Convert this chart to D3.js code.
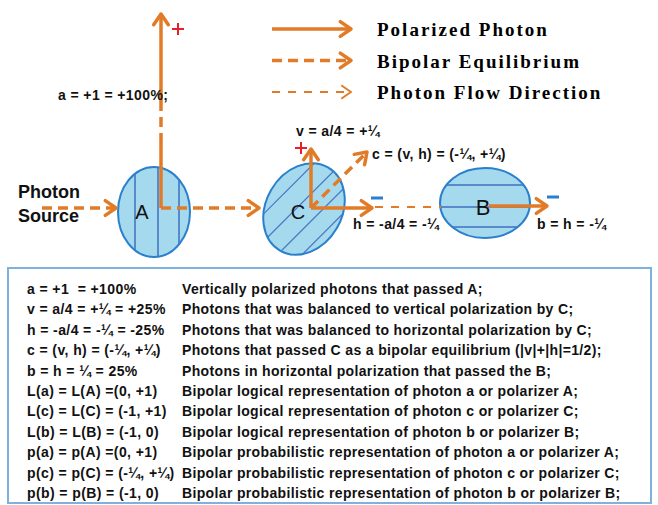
<!DOCTYPE html>
<html>
<head>
<meta charset="utf-8">
<script src="https://cdn.jsdelivr.net/npm/d3@7"></script>
<style>
  body { margin: 0; background: #fff; }
  svg { display: block; }
  text { white-space: pre; }
</style>
</head>
<body>
<div id="chart"></div>
<script>
// legend
const legendLabels = ["Polarized Photon", "Bipolar Equilibrium", "Photon Flow Direction"]
const legendStyles = ["solid", "bipolar", "flow"]

// polarizers (name, axis of their inner lines)
const polarizers = ["A", "C", "B"]
const polarizerAxis = ["vertical", "diagonal", "horizontal"]

// vector labels near the diagram
const labelA = "a = +1 = +100%;"
const labelV = "v = a/4 = +¼"
const labelC = "c = (v, h) = (-¼, +¼)"
const labelH = "h = -a/4 = -¼"
const labelB = "b = h = -¼"
const sourceLines = ["Photon", "Source"]

// table in the box
const formulas = [
  "a = +1  = +100%",
  "v = a/4 = +¼ = +25%",
  "h = -a/4 = -¼ = -25%",
  "c = (v, h) = (-¼, +¼)",
  "b = h = ¼ = 25%",
  "L(a) = L(A) =(0, +1)",
  "L(c) = L(C) = (-1, +1)",
  "L(b) = L(B) = (-1, 0)",
  "p(a) = p(A) =(0, +1)",
  "p(c) = p(C) = (-¼, +¼)",
  "p(b) = p(B) = (-1, 0)",
]
const descriptions = [
  "Vertically polarized photons that passed A;",
  "Photons that was balanced to vertical polarization by C;",
  "Photons that was balanced to horizontal polarization by C;",
  "Photons that passed C as a bipolar equilibrium (|v|+|h|=1/2);",
  "Photons in horizontal polarization that passed the B;",
  "Bipolar logical representation of photon a or polarizer A;",
  "Bipolar logical representation of photon c or polarizer C;",
  "Bipolar logical representation of photon b or polarizer B;",
  "Bipolar probabilistic representation of photon a or polarizer A;",
  "Bipolar probabilistic representation of photon c or polarizer C;",
  "Bipolar probabilistic representation of photon b or polarizer B;",
]

const width = 658
const height = 505
const orange = "#e17b27"
const red = "#e8202a"
const blue = "#2a80cc"
const sans = "'Liberation Sans', Arial, sans-serif"

const svg = d3.select("#chart").append("svg")
  .attr("width", width)
  .attr("height", height)

// the diagram lives on a row at y = 208
const axisY = 208
const centres = { A: [154, 212], C: [304, 209], B: [485, 203] }
const radii = { A: [36, 45], C: [48, 38], B: [45, 35] }
const tilt = { A: 0, C: -60, B: 0 }

const styleOf = {
  solid: { w: 3.5, dash: null, head: 13 },
  bipolar: { w: 3.5, dash: "10,6", head: 13 },
  flow: { w: 2, dash: "8,8", head: 11 },
}

function arrowHead(g, x, y, angle, size, w) {
  const a1 = angle + Math.PI - 0.6
  const a2 = angle + Math.PI + 0.6
  g.append("path")
    .attr("d", `M${x + size * Math.cos(a1)},${y + size * Math.sin(a1)}L${x},${y}L${x + size * Math.cos(a2)},${y + size * Math.sin(a2)}`)
    .attr("fill", "none")
    .attr("stroke", orange)
    .attr("stroke-width", w)
    .attr("stroke-linecap", "round")
    .attr("stroke-linejoin", "round")
}

function arrow(g, x1, y1, x2, y2, style, withHead = true) {
  const s = styleOf[style]
  g.append("line")
    .attr("x1", x1).attr("y1", y1).attr("x2", x2).attr("y2", y2)
    .attr("stroke", orange)
    .attr("stroke-width", s.w)
    .attr("stroke-dasharray", s.dash)
  if (withHead) arrowHead(g, x2, y2, Math.atan2(y2 - y1, x2 - x1), s.head, s.w)
}

// ---- legend
const legend = svg.append("g")
legendLabels.forEach((label, i) => {
  const y = 29 + i * 31.5
  arrow(legend, 272, y, 351, y, legendStyles[i])
  legend.append("text")
    .attr("x", 377)
    .attr("y", y + 7)
    .attr("font-family", "'Liberation Serif', 'Times New Roman', serif")
    .attr("font-weight", "bold")
    .attr("font-size", 19)
    .attr("letter-spacing", 2)
    .text(label)
})

// ---- polarizers
const defs = svg.append("defs")
const pol = svg.append("g")
polarizers.forEach((name, i) => {
  const [cx, cy] = centres[name]
  const [rx, ry] = radii[name]
  const g = pol.append("g").attr("transform", `translate(${cx},${cy}) rotate(${tilt[name]})`)
  defs.append("clipPath").attr("id", `clip-${name}`)
    .append("ellipse").attr("rx", rx).attr("ry", ry)
  g.append("ellipse")
    .attr("rx", rx).attr("ry", ry)
    .attr("fill", "#a4d9ee")
  const lines = g.append("g").attr("clip-path", `url(#clip-${name})`)
  const axis = polarizerAxis[i]
  if (axis === "vertical") {
    [-19, 4, 25].forEach(dx => lines.append("line")
      .attr("x1", dx).attr("x2", dx).attr("y1", -60).attr("y2", 60)
      .attr("stroke", "#3f6fbf").attr("stroke-width", 1.5))
  } else if (axis === "horizontal") {
    [-18, 4, 24].forEach(dy => lines.append("line")
      .attr("y1", dy).attr("y2", dy).attr("x1", -60).attr("x2", 60)
      .attr("stroke", "#3f6fbf").attr("stroke-width", 1.5))
  } else {
    // 45 degree lines in screen space -> -15 deg relative to the tilted ellipse
    [-26, -6, 14, 32].forEach(dy => lines.append("line")
      .attr("x1", -70).attr("x2", 70)
      .attr("y1", dy - 70 * Math.tan(Math.PI / 12))
      .attr("y2", dy + 70 * Math.tan(Math.PI / 12))
      .attr("stroke", "#4a74bf").attr("stroke-width", 1.2))
  }
  g.append("ellipse")
    .attr("rx", rx).attr("ry", ry)
    .attr("fill", "none")
    .attr("stroke", blue)
    .attr("stroke-width", 2)
})

// ---- flow arrows
const flow = svg.append("g")
arrow(flow, 42, axisY, 116, axisY, "bipolar")
arrow(flow, 161, axisY, 259, axisY, "bipolar")
arrow(flow, 375, 207, 441, 207, "flow", false)

// photon a (vertical from A)
arrow(flow, 161, axisY, 161, 143, "solid", false)
arrow(flow, 161, 143, 161, 103, "bipolar", false)
arrow(flow, 161, 103, 161, 14, "solid")

// photons out of C
arrow(flow, 311, 208, 311, 149, "solid")
arrow(flow, 311, 208, 372, 208, "solid")
arrow(flow, 311, 208, 367, 152, "bipolar")
// photon b
arrow(flow, 489, 206, 547, 206, "solid")

// ---- polarizer letters
polarizers.forEach(name => {
  const [cx, cy] = centres[name]
  const offsets = { A: [-12, 7], C: [-6, 10], B: [-2, 12] }
  svg.append("text")
    .attr("x", cx + offsets[name][0])
    .attr("y", cy + offsets[name][1])
    .attr("text-anchor", "middle")
    .attr("font-family", sans)
    .attr("font-size", name === "B" ? 22 : 20)
    .attr("fill", "#111")
    .text(name)
})

// ---- signs
const signs = svg.append("g").attr("stroke-width", 2)
function plus(x, y) {
  signs.append("path").attr("d", `M${x - 6},${y}H${x + 6}M${x},${y - 6}V${y + 6}`).attr("stroke", red)
}
function minus(x, y) {
  signs.append("path").attr("d", `M${x - 6},${y}H${x + 6}`).attr("stroke", blue).attr("stroke-width", 3)
}
plus(178, 29)
plus(301, 148)
minus(377, 198)
minus(553, 197)

// ---- labels
const labels = svg.append("g")
  .attr("font-family", sans)
  .attr("font-weight", "bold")
  .attr("font-size", 14)
  .attr("letter-spacing", 0.4)
  .attr("fill", "#111")
labels.append("text").attr("x", 58).attr("y", 100).text(labelA)
labels.append("text").attr("x", 296).attr("y", 136).text(labelV)
labels.append("text").attr("x", 372).attr("y", 159).text(labelC)
labels.append("text").attr("x", 353).attr("y", 229).text(labelH)
labels.append("text").attr("x", 537).attr("y", 229).text(labelB)

sourceLines.forEach((line, i) => {
  svg.append("text")
    .attr("x", 18)
    .attr("y", 198 + i * 24)
    .attr("font-family", sans)
    .attr("font-weight", "bold")
    .attr("font-size", 18)
    .attr("fill", "#111")
    .text(line)
})

// ---- box with the table
svg.append("rect")
  .attr("x", 8).attr("y", 268)
  .attr("width", 643).attr("height", 235)
  .attr("fill", "#fff")
  .attr("stroke", "#7db2de")
  .attr("stroke-width", 2)

const rowY = d3.scaleLinear().domain([0, formulas.length - 1]).range([294, 498])
const table = svg.append("g")
  .attr("font-family", sans)
  .attr("font-weight", "bold")
  .attr("font-size", 14)
  .attr("fill", "#111")

formulas.forEach((f, i) => {
  const t = table.append("text")
    .attr("x", 27)
    .attr("y", rowY(i))
    .attr("letter-spacing", 0.4)
    .text(f)
  const end = 27 + t.node().getComputedTextLength()
  table.append("text")
    .attr("x", Math.max(182, end + 1))
    .attr("y", rowY(i))
    .attr("letter-spacing", 0.35)
    .text(descriptions[i])
})
</script>
</body>
</html>
